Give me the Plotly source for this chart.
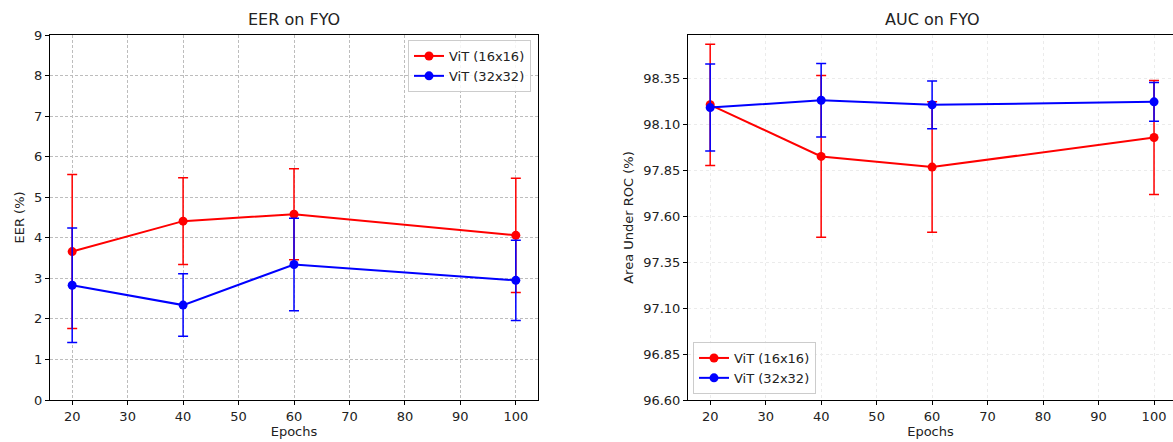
import plotly.graph_objects as go

epochs = [20, 40, 60, 100]

eer_16 = [3.66, 4.41, 4.58, 4.06]
eer_16_err = [1.90, 1.07, 1.12, 1.41]
eer_32 = [2.83, 2.34, 3.34, 2.95]
eer_32_err = [1.41, 0.77, 1.14, 0.99]

auc_16 = [98.207, 97.926, 97.868, 98.029]
auc_16_err = [0.33, 0.44, 0.355, 0.31]
auc_32 = [98.192, 98.232, 98.207, 98.223]
auc_32_err = [0.237, 0.20, 0.13, 0.105]

names = ["ViT (16x16)", "ViT (32x32)"]
colors = ["#ff0000", "#0000ff"]

x_ticks = [20, 30, 40, 50, 60, 70, 80, 90, 100]
eer_ticks = [0, 1, 2, 3, 4, 5, 6, 7, 8, 9]
auc_ticks = [96.60, 96.85, 97.10, 97.35, 97.60, 97.85, 98.10, 98.35]

W, H = 1173, 442
FONT = "DejaVu Sans"

fig = go.Figure()


def add_series(y, err, name, color, xa, ya, legend):
    fig.add_trace(go.Scatter(
        x=epochs, y=y, name=name, mode="lines+markers",
        xaxis=xa, yaxis=ya, legend=legend,
        line=dict(color=color, width=2),
        marker=dict(color=color, size=9, symbol="circle"),
        error_y=dict(type="data", array=err, visible=True,
                     color=color, thickness=1.5, width=5),
    ))


add_series(eer_16, eer_16_err, names[0], colors[0], "x", "y", "legend")
add_series(eer_32, eer_32_err, names[1], colors[1], "x", "y", "legend")
add_series(auc_16, auc_16_err, names[0], colors[0], "x2", "y2", "legend2")
add_series(auc_32, auc_32_err, names[1], colors[1], "x2", "y2", "legend2")

tickfont = dict(family=FONT, size=13, color="#222")
titlefont = dict(family=FONT, size=13, color="#222")

left_dom = [50 / W, 538 / W]
right_dom = [688 / W, 1.0]

axis_common = dict(
    showline=True, linecolor="black", linewidth=1,
    ticks="outside", ticklen=4, tickcolor="black", tickwidth=1,
    tickfont=tickfont, zeroline=False, automargin=False,
)

fig.update_layout(
    width=W, height=H,
    margin=dict(l=0, r=0, t=35, b=42, autoexpand=False),
    paper_bgcolor="white", plot_bgcolor="white",
    showlegend=True,
    xaxis=dict(domain=left_dom, range=[16, 104], tickvals=x_ticks,
               mirror=True, anchor="y",
               showgrid=True, gridcolor="#bdbdbd", griddash="3px,2px", gridwidth=1,
               title=dict(text="Epochs", font=titlefont, standoff=0),
               **axis_common),
    yaxis=dict(domain=[0, 1], range=[0, 9], tickvals=eer_ticks,
               mirror=True, anchor="x",
               showgrid=True, gridcolor="#bdbdbd", griddash="3px,2px", gridwidth=1,
               title=dict(text="EER (%)", font=titlefont, standoff=6),
               **axis_common),
    xaxis2=dict(domain=right_dom, range=[16, 103.42], tickvals=x_ticks,
                mirror=True, anchor="y2",
                showgrid=True, gridcolor="#ebebeb", griddash="dot", gridwidth=1,
                title=dict(text="Epochs", font=titlefont, standoff=0),
                **axis_common),
    yaxis2=dict(domain=[0, 1], range=[96.60, 98.587], tickvals=auc_ticks,
                tickformat=".2f", anchor="x2",
                showgrid=True, gridcolor="#ebebeb", griddash="dot", gridwidth=1,
                title=dict(text="Area Under ROC (%)", font=titlefont, standoff=6),
                **axis_common),
    legend=dict(x=531 / W, y=(400 - 40) / 365, xanchor="right", yanchor="top",
                bgcolor="rgba(255,255,255,0.85)", bordercolor="#cccccc",
                borderwidth=1, font=dict(family=FONT, size=13, color="#222"),
                tracegroupgap=0, itemwidth=30),
    legend2=dict(x=693 / W, y=(400 - 394) / 365, xanchor="left", yanchor="bottom",
                 bgcolor="rgba(255,255,255,0.85)", bordercolor="#cccccc",
                 borderwidth=1, font=dict(family=FONT, size=13, color="#222"),
                 tracegroupgap=0, itemwidth=30),
    annotations=[
        dict(text="EER on FYO", xref="paper", yref="paper",
             x=(left_dom[0] + left_dom[1]) / 2, y=1, xanchor="center",
             yanchor="bottom", yshift=4, showarrow=False,
             font=dict(family=FONT, size=16, color="#222")),
        dict(text="AUC on FYO", xref="paper", yref="paper",
             x=(688 + 1176) / 2 / W, y=1, xanchor="center",
             yanchor="bottom", yshift=4, showarrow=False,
             font=dict(family=FONT, size=16, color="#222")),
    ],
)

fig.write_html(
    "out.html",
    config={"displayModeBar": False},
    post_script="document.body.style.margin='0';document.body.style.overflow='hidden';",
)
